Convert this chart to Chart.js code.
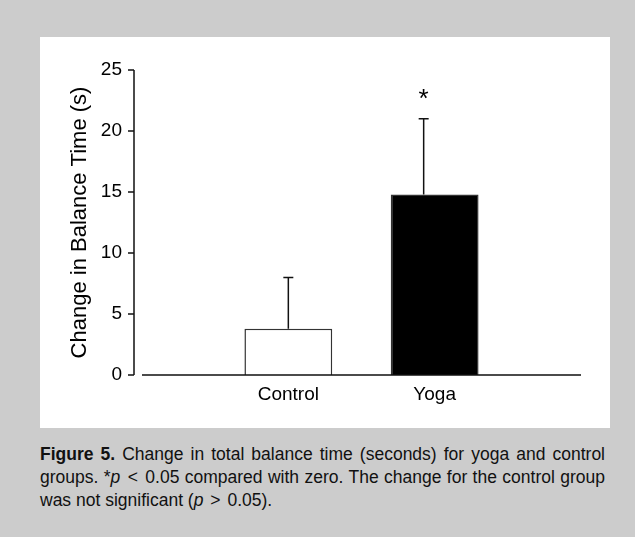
<!DOCTYPE html>
<html>
<head>
<meta charset="utf-8">
<title>Figure 5</title>
<script src="https://cdn.jsdelivr.net/npm/chart.js@4.4.1/dist/chart.umd.min.js"></script>
<style>
  html, body { margin: 0; padding: 0; }
  body { width: 635px; height: 537px; background: #cccccc; position: relative; overflow: hidden;
         font-family: "Liberation Sans", Arial, sans-serif; }
  #panel { position: absolute; left: 40px; top: 37px; width: 570px; height: 391px; background: #fff; }
  #caption { position: absolute; left: 40px; top: 443px; width: 565px; font-size: 17.5px; line-height: 23px;
             color: #111; white-space: nowrap; }
  #caption .full { text-align: justify; text-align-last: justify; }
  #caption .op { margin: 0 2px; }
</style>
</head>
<body>
<div id="panel"><canvas id="balanceChart"></canvas></div>
<div id="caption">
  <div class="full"><b>Figure 5.</b> Change in total balance time (seconds) for yoga and control</div>
  <div class="full">groups. *<i>p</i> <span class="op">&lt;</span> 0.05 compared with zero. The change for the control group</div>
  <div>was not significant (<i>p</i> <span class="op">&gt;</span> 0.05).</div>
</div>
<script>
// values (empty slots at both ends keep the bars at 1/3 and 2/3)
var categories = ['', 'Control', 'Yoga', ''];
var meanChange = [null, 3.8, 14.8, null];
var upperError = [null, 8.0, 21.0, null];
var markers = [null, '', '*', null];
var yTicks = [0, 5, 10, 15, 20, 25];

Chart.defaults.font.family = '"Liberation Sans", Arial, sans-serif';
Chart.defaults.color = '#000';

// y axis sits a little left of where the x axis starts, like the original
var axesPlugin = {
  id: 'axes',
  afterDraw: function(chart) {
    var ctx = chart.ctx, a = chart.chartArea, y = chart.scales.y;
    var ax = a.left - 8;
    var y0 = y.getPixelForValue(0);
    ctx.save();
    ctx.strokeStyle = '#111';
    ctx.lineWidth = 1.5;
    ctx.beginPath();
    ctx.moveTo(ax, y.getPixelForValue(yTicks[yTicks.length - 1]));
    ctx.lineTo(ax, y0);
    yTicks.forEach(function(t) {
      var py = y.getPixelForValue(t);
      ctx.moveTo(ax - 6, py);
      ctx.lineTo(ax, py);
    });
    ctx.moveTo(a.left, y0);
    ctx.lineTo(a.right, y0);
    ctx.stroke();
    ctx.restore();
  }
};

var errorPlugin = {
  id: 'errors',
  afterDatasetsDraw: function(chart) {
    var ctx = chart.ctx, y = chart.scales.y;
    var bars = chart.getDatasetMeta(0).data;
    var shift = [0, 0, -11, 0];
    ctx.save();
    ctx.strokeStyle = '#111';
    ctx.lineWidth = 1.5;
    for (var i = 0; i < categories.length; i++) {
      if (upperError[i] == null) continue;
      var x = bars[i].x + shift[i];
      var top = y.getPixelForValue(upperError[i]);
      ctx.beginPath();
      ctx.moveTo(x, y.getPixelForValue(meanChange[i]));
      ctx.lineTo(x, top);
      ctx.moveTo(x - 5, top);
      ctx.lineTo(x + 5, top);
      ctx.stroke();
      if (markers[i]) {
        ctx.fillStyle = '#000';
        ctx.font = '26px "Liberation Sans", Arial, sans-serif';
        ctx.textAlign = 'center';
        ctx.textBaseline = 'middle';
        ctx.fillText(markers[i], x, top - 19);
      }
    }
    ctx.restore();
  }
};

var ctx = document.getElementById('balanceChart').getContext('2d');
var balanceChart = new Chart(ctx, {
  type: 'bar',
  data: {
    labels: categories,
    datasets: [{
      data: meanChange,
      backgroundColor: ['#fff', '#fff', '#000', '#fff'],
      borderColor: '#333',
      borderWidth: 1.5,
      categoryPercentage: 1,
      barPercentage: 0.6
    }]
  },
  options: {
    responsive: true,
    maintainAspectRatio: false,
    animation: false,
    layout: { padding: { left: 27, top: 33, right: 29, bottom: 0 } },
    plugins: { legend: { display: false }, tooltip: { enabled: false } },
    scales: {
      x: {
        offset: false,
        grid: { display: false, drawTicks: false },
        border: { display: false },
        ticks: { font: { size: 19 }, padding: 8, autoSkip: false, maxRotation: 0 },
        afterFit: function(s) { s.height = 53; }
      },
      y: {
        min: 0,
        max: 25,
        grid: { display: false, drawTicks: false },
        border: { display: false },
        ticks: { stepSize: 5, font: { size: 19 }, padding: 20 },
        title: { display: true, text: 'Change in Balance Time (s)', font: { size: 22 }, padding: 0 },
        afterFit: function(s) { s.width = 75; }
      }
    }
  },
  plugins: [axesPlugin, errorPlugin]
});
</script>
</body>
</html>
